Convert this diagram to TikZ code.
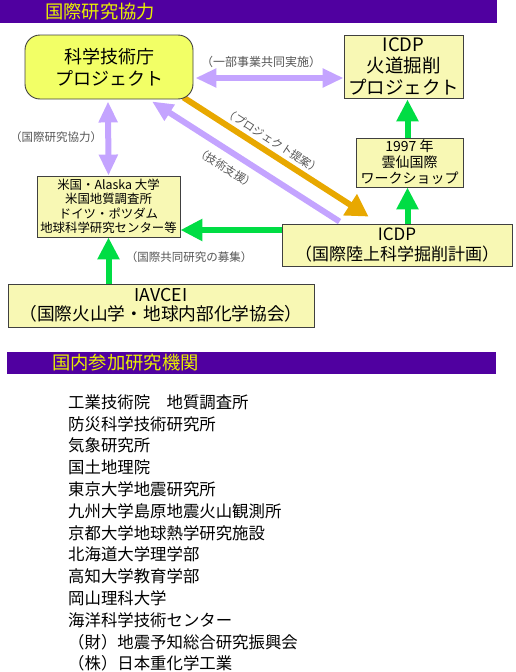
\documentclass[tikz,border=0pt]{standalone}
\usepackage{fontspec}
\setmainfont{Noto Sans CJK JP}
\usetikzlibrary{arrows.meta,backgrounds,calc}
\definecolor{banner}{HTML}{5000A0}
\definecolor{bantext}{HTML}{E8F000}
\definecolor{yel}{HTML}{F2FF66}
\definecolor{pale}{HTML}{F8F8B4}
\definecolor{lav}{HTML}{C4A4FF}
\definecolor{grn}{HTML}{00DD44}
\definecolor{org}{HTML}{E8A800}
\definecolor{lblc}{HTML}{555555}
\begin{document}
\begin{tikzpicture}[x=1pt,y=-1pt,
  box/.style={draw=black!75,line width=0.9pt,fill=pale,align=center,inner sep=0pt,text=black},
  lbl/.style={text=lblc,font=\fontsize{11.5}{12}\selectfont,inner sep=0pt},
  lavarr/.style={draw=lav,line width=6pt},
  lavtip/.style={-{Triangle[width=18pt,length=21pt]}},
  lavboth/.style={{Triangle[width=18pt,length=21pt]}-{Triangle[width=18pt,length=21pt]}},
  grnarr/.style={draw=grn,line width=6pt,-{Triangle[width=21pt,length=22pt]}},
  orgarr/.style={draw=org,line width=6pt,-{Triangle[width=24pt,length=22pt]}},
  bantxt/.style={anchor=west,text=bantext,font=\fontsize{18.3}{20}\selectfont,inner sep=0pt},
  item/.style={anchor=west,inner sep=0pt,font=\fontsize{16.4}{18}\selectfont}
]
\useasboundingbox (0,0) rectangle (515,672);

% banners
\fill[banner] (0,0) rectangle (497,22.5);
\node[bantxt] (b1) at (45,11.5) {国際研究協力};
\fill[banner] (6.5,352) rectangle (496,374);
\node[bantxt] (b2) at (52,363) {国内参加研究機関};

% boxes
\node[box,fill=yel,rounded corners=15pt,minimum width=168pt,minimum height=64pt,font=\fontsize{18}{22}\selectfont] (sta) at (109,67) {科学技術庁\\プロジェクト};
\node[box,minimum width=119pt,minimum height=63pt,font=\fontsize{18.5}{21.5}\selectfont] (icdpA) at (403.5,66.5) {ICDP\\火道掘削\\プロジェクト};
\node[box,minimum width=107pt,minimum height=49pt,font=\fontsize{14}{16}\selectfont] (ws) at (409.5,162.5) {1997 年\\雲仙国際\\ワークショップ};
\node[box,minimum width=143pt,minimum height=61pt,font=\fontsize{12.4}{14.5}\selectfont] (usa) at (108.5,206.5) {米国・Alaska 大学\\米国地質調査所\\ドイツ・ポツダム\\地球科学研究センター等};
\node[box,minimum width=230pt,minimum height=42pt,font=\fontsize{17}{20}\selectfont] (icdpB) at (397,245) {ICDP\\（国際陸上科学掘削計画）};
\node[box,minimum width=306pt,minimum height=43pt,font=\fontsize{17.7}{19}\selectfont] (iav) at (161,305.5) {IAVCEI\\（国際火山学・地球内部化学協会）};

% labels
\node[lbl,font=\fontsize{12}{13}\selectfont] (l1) at (261,62) {（一部事業共同実施）};
\node[lbl] (l2) at (56,137) {（国際研究協力）};
\node[lbl,font=\fontsize{11.2}{12}\selectfont,rotate=-32.8] (l3) at (273,141) {（プロジェクト提案）};
\node[lbl,font=\fontsize{11.2}{12}\selectfont,rotate=-32.8] (l4) at (226,168) {（技術支援）};
\node[lbl] (l5) at (189,257) {（国際共同研究の募集）};

% connectors
\begin{scope}[on background layer]
\draw[lavarr,lavboth] ([xshift=2pt,yshift=-11pt]sta.east) -- ([yshift=-11.5pt]icdpA.west);
\draw[lavarr,lavboth] ([xshift=-1pt,yshift=-2pt]sta.south) -- (usa.north);
\draw[orgarr] ([xshift=-10pt,yshift=2pt]sta.south east) -- ([xshift=87pt,yshift=7pt]icdpB.north west);
\draw[lavarr,lavtip] ([xshift=58pt,yshift=2pt]icdpB.north west) -- ([xshift=43pt,yshift=-2pt]sta.south);
\coordinate (wsn) at ([xshift=-2pt]ws.north);
\coordinate (wss) at ([xshift=-2pt]ws.south);
\draw[grnarr,shorten >=1pt] (wsn) -- (wsn |- icdpA.south);
\draw[grnarr] (wss |- icdpB.north) -- (wss);
\coordinate (gw) at ([yshift=15pt]icdpB.west);
\draw[grnarr] (gw) -- (gw -| usa.east);
\draw[grnarr] (usa.south |- iav.north) -- (usa.south);
\end{scope}

% list
\foreach \t [count=\i from 0] in {工業技術院　地質調査所,防災科学技術研究所,気象研究所,国土地理院,東京大学地震研究所,九州大学島原地震火山観測所,京都大学地球熱学研究施設,北海道大学理学部,高知大学教育学部,岡山理科大学,海洋科学技術センター,（財）地震予知総合研究振興会,（株）日本重化学工業}
  \node[item] (item\i) at (68,{402+21.8*\i}) {\t};
\end{tikzpicture}
\end{document}
